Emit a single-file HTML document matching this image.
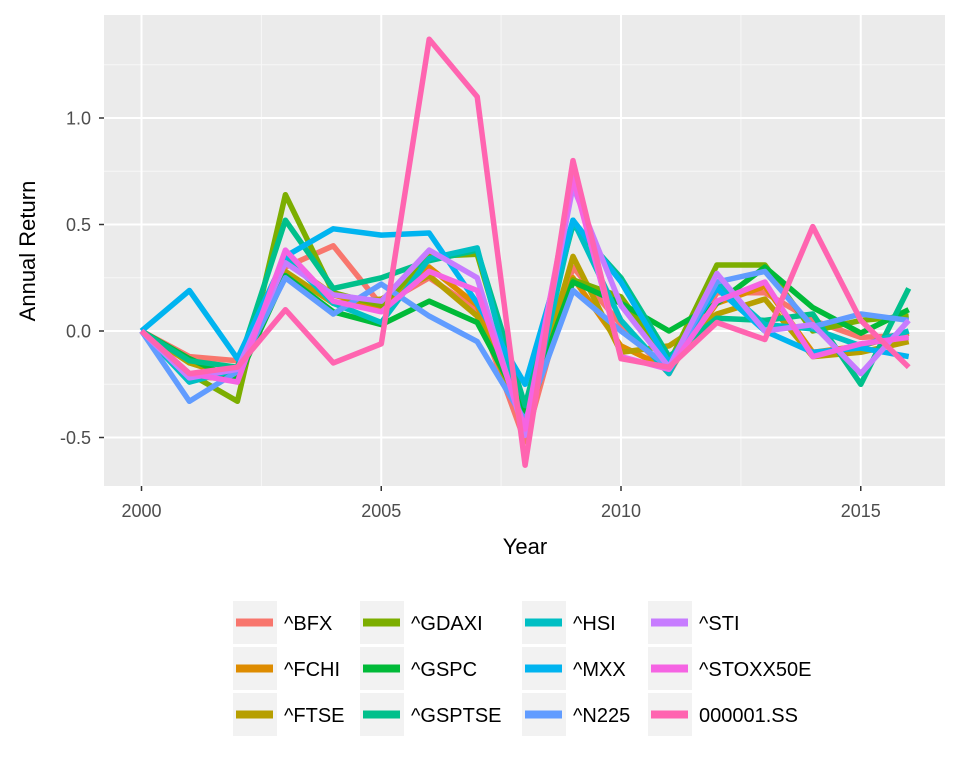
<!DOCTYPE html>
<html><head><meta charset="utf-8"><style>
body{margin:0;background:#fff;font-family:"Liberation Sans",sans-serif}
</style></head><body>
<svg id="chart" width="960" height="768" xmlns="http://www.w3.org/2000/svg"></svg>
<script>
const years=[2000,2001,2002,2003,2004,2005,2006,2007,2008,2009,2010,2011,2012,2013,2014,2015,2016];
const seriesNames=["^BFX","^FCHI","^FTSE","^GDAXI","^GSPC","^GSPTSE","^HSI","^MXX","^N225","^STI","^STOXX50E","000001.SS"];
const seriesColors=["#F8766D","#DE8C00","#B79F00","#7CAE00","#00BA38","#00C08B","#00BFC4","#00B4F0","#619CFF","#C77CFF","#F564E3","#FF64B0"];
const vBFX=[0,-0.12,-0.14,0.30,0.40,0.12,0.25,0.10,-0.52,0.30,0.03,-0.20,0.18,0.18,0.05,-0.03,-0.02];
const vFCHI=[0,-0.21,-0.23,0.33,0.17,0.11,0.30,0.12,-0.45,0.25,-0.07,-0.18,0.13,0.21,-0.10,-0.07,-0.01];
const vFTSE=[0,-0.15,-0.22,0.28,0.13,0.15,0.26,0.07,-0.43,0.35,-0.10,-0.07,0.08,0.15,-0.12,-0.10,-0.05];
const vGDAXI=[0,-0.20,-0.33,0.64,0.18,0.12,0.35,0.36,-0.40,0.24,0.16,-0.15,0.31,0.31,0.00,0.05,0.07];
const vGSPC=[0,-0.13,-0.23,0.26,0.09,0.03,0.14,0.04,-0.38,0.23,0.13,0.00,0.13,0.30,0.11,-0.01,0.10];
const vGSPTSE=[0,-0.14,-0.17,0.52,0.20,0.25,0.33,0.38,-0.35,0.50,0.25,-0.12,0.06,0.05,0.08,-0.25,0.20];
const vHSI=[0,-0.24,-0.18,0.35,0.13,0.04,0.34,0.39,-0.48,0.52,0.05,-0.20,0.23,0.03,0.01,-0.07,0.00];
const vMXX=[0,0.19,-0.13,0.35,0.48,0.45,0.46,0.13,-0.25,0.52,0.23,-0.15,0.20,0.00,-0.10,-0.08,-0.12];
const vN225=[0,-0.33,-0.19,0.25,0.08,0.22,0.07,-0.05,-0.42,0.19,0.00,-0.17,0.23,0.28,0.02,0.08,0.05];
const vSTI=[0,-0.22,-0.18,0.32,0.17,0.14,0.38,0.25,-0.49,0.68,0.12,-0.17,0.27,0.00,0.03,-0.20,0.05];
const vSTOXX=[0,-0.20,-0.24,0.38,0.14,0.09,0.28,0.19,-0.46,0.72,-0.12,-0.18,0.14,0.23,-0.12,-0.06,-0.03];
const vSS=[0,-0.20,-0.17,0.10,-0.15,-0.06,1.37,1.10,-0.63,0.80,-0.13,-0.17,0.04,-0.04,0.49,0.05,-0.17];
const allValues=[vBFX,vFCHI,vFTSE,vGDAXI,vGSPC,vGSPTSE,vHSI,vMXX,vN225,vSTI,vSTOXX,vSS];
const xTicks=[2000,2005,2010,2015];
const yTicks=[-0.5,0,0.5,1.0];
const yTickLabels=["-0.5","0.0","0.5","1.0"];

const NS="http://www.w3.org/2000/svg";
const svg=document.getElementById('chart');
const P={l:104,r:945,t:15,b:486};
const xs=y=>141.5+(y-2000)*47.95;
const ys=v=>331-v*213;
function mk(t,a,p){const e=document.createElementNS(NS,t);for(const k in a)e.setAttribute(k,a[k]);(p||svg).appendChild(e);return e;}
const panel=mk('rect',{x:P.l,y:P.t,width:P.r-P.l,height:P.b-P.t,fill:'#EBEBEB'});


[2002.5,2007.5,2012.5].forEach(x=>mk('line',{x1:xs(x),x2:xs(x),y1:P.t,y2:P.b,stroke:'#F7F7F7','stroke-width':1}));
[-0.25,0.25,0.75,1.25].forEach(v=>mk('line',{x1:P.l,x2:P.r,y1:ys(v),y2:ys(v),stroke:'#F7F7F7','stroke-width':1}));
xTicks.forEach(x=>mk('line',{x1:xs(x),x2:xs(x),y1:P.t,y2:P.b,stroke:'#fff','stroke-width':2}));
yTicks.forEach(v=>mk('line',{x1:P.l,x2:P.r,y1:ys(v),y2:ys(v),stroke:'#fff','stroke-width':2}));
allValues.forEach((vals,i)=>{
  const d=vals.map((v,j)=>(j?'L':'M')+xs(years[j]).toFixed(1)+','+ys(v).toFixed(1)).join('');
  const p=mk('path',{d:d,fill:'none',stroke:seriesColors[i],'stroke-width':5.5,'stroke-linejoin':'round'});
  
  
});
xTicks.forEach(x=>{
  mk('line',{x1:xs(x),x2:xs(x),y1:P.b,y2:P.b+5,stroke:'#333','stroke-width':1.5});
  const t=mk('text',{x:xs(x),y:P.b+31,'text-anchor':'middle','font-size':18,fill:'#4D4D4D'});t.textContent=x;
  
  
});
yTicks.forEach((v,i)=>{
  mk('line',{x1:P.l-5,x2:P.l,y1:ys(v),y2:ys(v),stroke:'#333','stroke-width':1.5});
  const t=mk('text',{x:P.l-13,y:ys(v)+6.5,'text-anchor':'end','font-size':18,fill:'#4D4D4D'});t.textContent=yTickLabels[i];
  
  
});
const xt=mk('text',{x:525,y:554,'text-anchor':'middle','font-size':22,fill:'#000'});xt.textContent='Year';


const yt=mk('text',{x:0,y:0,'text-anchor':'middle','font-size':22,fill:'#000',transform:'translate(35,251) rotate(-90)'});yt.textContent='Annual Return';


const colX=[233,360,522,648], rowY=[601,647,693];
seriesNames.forEach((n,i)=>{
  const c=Math.floor(i/3), r=i%3;
  const g=mk('g',{});
  
  
  mk('rect',{x:colX[c],y:rowY[r],width:44,height:43,fill:'#F2F2F2'},g);
  mk('line',{x1:colX[c]+3,x2:colX[c]+40,y1:rowY[r]+21.5,y2:rowY[r]+21.5,stroke:seriesColors[i],'stroke-width':8},g);
  const t=mk('text',{x:colX[c]+51,y:rowY[r]+29,'font-size':20,fill:'#000'},g);t.textContent=n;
});
</script>
</body></html>
